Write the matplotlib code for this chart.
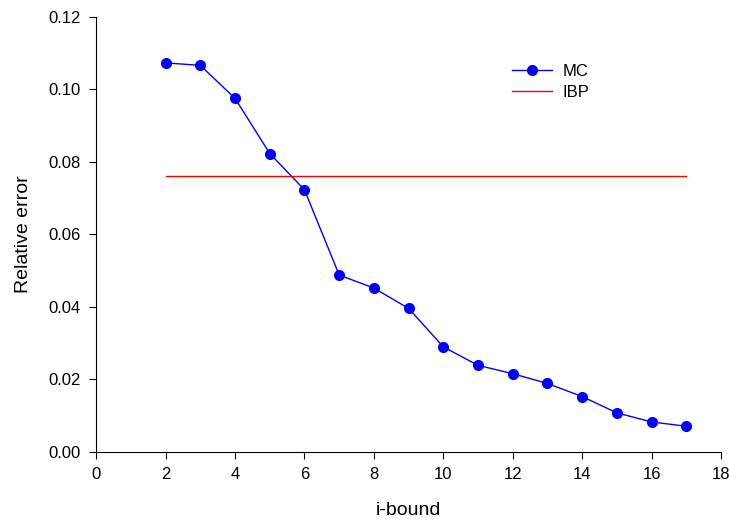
import matplotlib
matplotlib.use("Agg")
import matplotlib.pyplot as plt

plt.rcParams['font.family'] = ['Liberation Sans', 'DejaVu Sans']

i_bound = [2, 3, 4, 5, 6, 7, 8, 9, 10, 11, 12, 13, 14, 15, 16, 17]
mc_error = [0.1073, 0.1066, 0.0975, 0.0823, 0.0723, 0.0488, 0.0452, 0.0396,
            0.0290, 0.0239, 0.0216, 0.0189, 0.0153, 0.0108, 0.0083, 0.0071]
ibp_error = 0.0762

fig = plt.figure(figsize=(7.29, 5.25), dpi=100)
ax = fig.add_axes([0.132, 0.139, 0.857, 0.829])

ax.plot(i_bound, mc_error, color='blue', marker='o', markersize=7, linewidth=1, label='MC')
ax.plot([i_bound[0], i_bound[-1]], [ibp_error, ibp_error], color='red', linewidth=1, label='IBP')

ax.set_xlim(0, 18)
ax.set_ylim(0, 0.12)
ax.set_xticks(range(0, 19, 2))
ax.set_yticks([0, 0.02, 0.04, 0.06, 0.08, 0.10, 0.12])
ax.set_yticklabels(['0.00', '0.02', '0.04', '0.06', '0.08', '0.10', '0.12'])
ax.tick_params(direction='out', length=5, labelsize=12, pad=6)
ax.spines['top'].set_visible(False)
ax.spines['right'].set_visible(False)
ax.set_xlabel('i-bound', fontsize=14, labelpad=14)
ax.set_ylabel('Relative error', fontsize=14, labelpad=12)

ax.legend(loc='upper left', bbox_to_anchor=(0.642, 0.926), frameon=False, fontsize=12,
          handlelength=2.4, handletextpad=0.6, labelspacing=0.35)

fig.savefig('out.png', dpi=100)
